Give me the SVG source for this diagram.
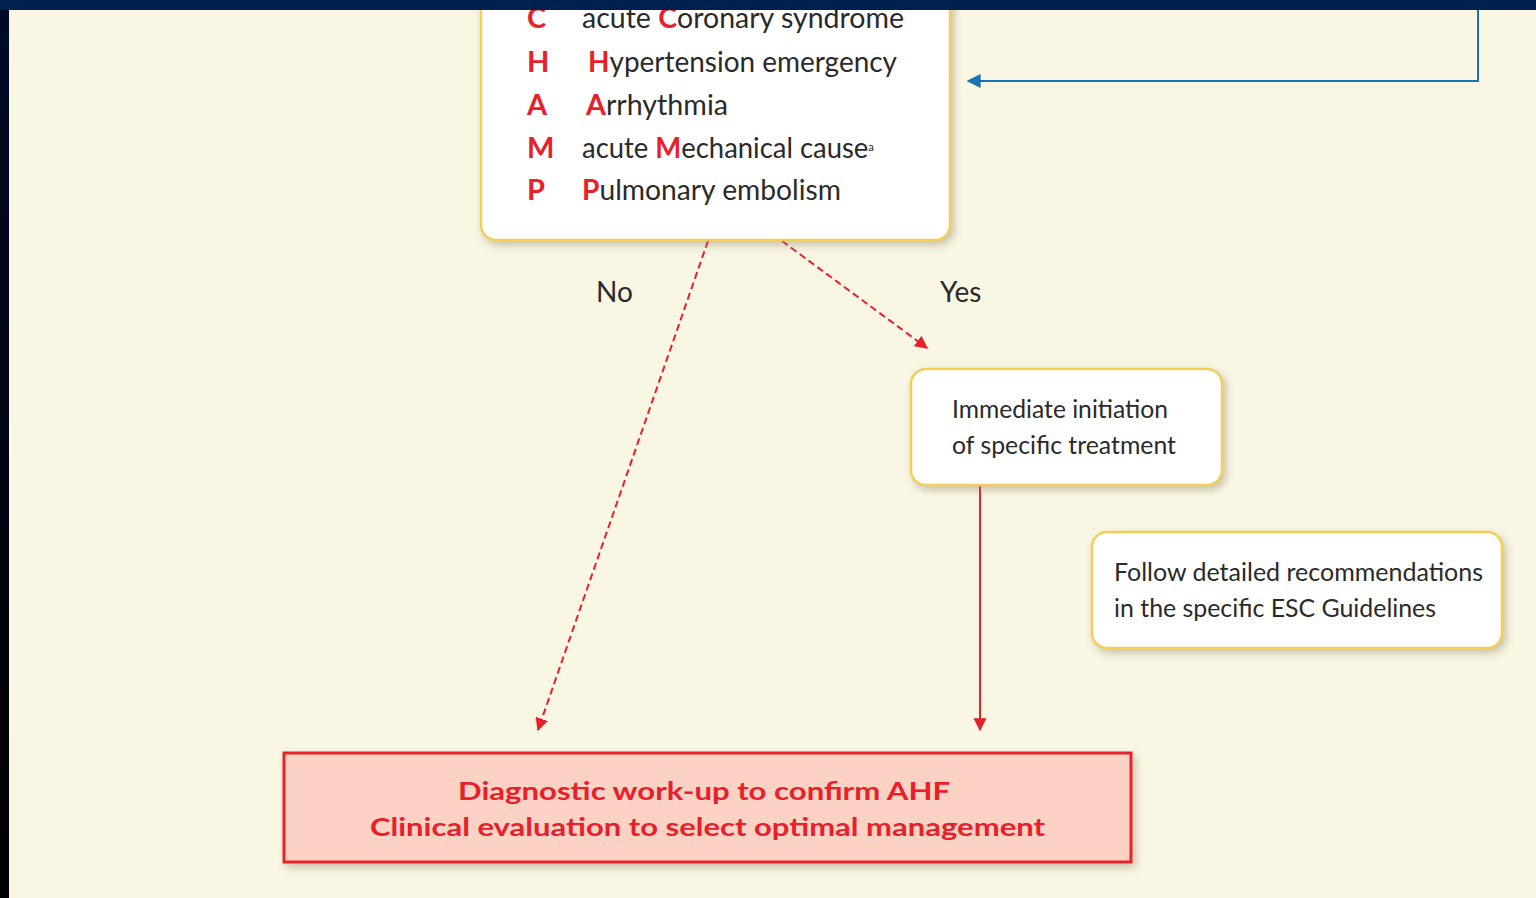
<svg xmlns="http://www.w3.org/2000/svg" width="1536" height="898" viewBox="0 0 1536 898">
<defs>
<linearGradient id="lstrip" x1="0" y1="0" x2="0" y2="1"><stop offset="0" stop-color="#000a26"/><stop offset="1" stop-color="#000000"/></linearGradient>
<filter id="sh" x="-10%" y="-10%" width="125%" height="130%"><feDropShadow dx="3" dy="4" stdDeviation="4" flood-color="#8a8060" flood-opacity="0.45"/></filter>
<marker id="ar" viewBox="0 0 10 10" refX="9" refY="5" markerWidth="6.5" markerHeight="6.5" orient="auto" markerUnits="strokeWidth"><path d="M0,0 L10,5 L0,10 z" fill="#e8202a"/></marker>
<marker id="ab" viewBox="0 0 10 10" refX="9" refY="5" markerWidth="7" markerHeight="7" orient="auto" markerUnits="strokeWidth"><path d="M0,0 L10,5 L0,10 z" fill="#1a72b5"/></marker>
<style>
.t{font-family:Lato,"Open Sans","Liberation Sans",sans-serif;fill:#2a2a2a}
.r{fill:#e8202a;font-weight:bold}
.ch{font-size:29px}
.bx{fill:#ffffff;stroke:#f3cf5a;stroke-width:2.5}
.n{font-size:25px}
.d{font-family:Lato,"Open Sans","Liberation Sans",sans-serif;font-size:25px;font-weight:bold;fill:#e8202a}
.red{stroke:#e8202a;stroke-width:2;fill:none}
</style>
</defs>
<rect x="0" y="0" width="1536" height="898" fill="#f9f6e3"/>

<g id="connectors">
<path class="red" d="M708,241 L538,730" stroke-dasharray="7,4" marker-end="url(#ar)"/>
<path class="red" d="M782,241 L927,348" stroke-dasharray="7,4" marker-end="url(#ar)"/>
<path class="red" d="M980,486 L980,730" marker-end="url(#ar)"/>
<path d="M1478,10 L1478,81 L968,81" stroke="#1a72b5" stroke-width="2" fill="none" marker-end="url(#ab)"/>
<text class="t" x="596" y="302" font-size="28">No</text>
<text class="t" x="940" y="302" font-size="28">Yes</text>
</g>

<g id="champ">
<rect class="bx" x="481" y="-30" width="469" height="270" rx="15" filter="url(#sh)"/>
<text class="t ch r" x="527" y="28">C</text>
<text class="t ch" x="582" y="28" textLength="322" lengthAdjust="spacingAndGlyphs">acute <tspan class="r">C</tspan>oronary syndrome</text>
<text class="t ch r" x="527" y="72">H</text>
<text class="t ch" x="588" y="72" textLength="309" lengthAdjust="spacingAndGlyphs"><tspan class="r">H</tspan>ypertension emergency</text>
<text class="t ch r" x="527" y="115">A</text>
<text class="t ch" x="586" y="115" textLength="142" lengthAdjust="spacingAndGlyphs"><tspan class="r">A</tspan>rrhythmia</text>
<text class="t ch r" x="527" y="158">M</text>
<text class="t ch" x="582" y="158" textLength="292" lengthAdjust="spacingAndGlyphs">acute <tspan class="r">M</tspan>echanical cause<tspan font-size="12" baseline-shift="super">a</tspan></text>
<text class="t ch r" x="527" y="200">P</text>
<text class="t ch" x="582" y="200" textLength="259" lengthAdjust="spacingAndGlyphs"><tspan class="r">P</tspan>ulmonary embolism</text>
</g>

<rect x="0" y="0" width="1536" height="10" fill="#00214f"/>
<rect x="0" y="10" width="9" height="888" fill="url(#lstrip)"/>

<g id="immediate">
<rect class="bx" x="911" y="369" width="311" height="116" rx="15" filter="url(#sh)"/>
<text class="t n" x="952" y="418" textLength="216" lengthAdjust="spacingAndGlyphs">Immediate initiation</text>
<text class="t n" x="952" y="454" textLength="224" lengthAdjust="spacingAndGlyphs">of specific treatment</text>
</g>

<g id="follow">
<rect class="bx" x="1092" y="532" width="410" height="116" rx="15" filter="url(#sh)"/>
<text class="t n" x="1114" y="581" textLength="369" lengthAdjust="spacingAndGlyphs">Follow detailed recommendations</text>
<text class="t n" x="1114" y="617" textLength="322" lengthAdjust="spacingAndGlyphs">in the specific ESC Guidelines</text>
</g>

<g id="diagnostic">
<rect x="284" y="753" width="847" height="109" fill="#fbd2c4" stroke="#e8202a" stroke-width="3" filter="url(#sh)"/>
<text class="d" x="458" y="800" textLength="492" lengthAdjust="spacingAndGlyphs">Diagnostic work-up to confirm AHF</text>
<text class="d" x="370" y="836" textLength="675" lengthAdjust="spacingAndGlyphs">Clinical evaluation to select optimal management</text>
</g>
</svg>
